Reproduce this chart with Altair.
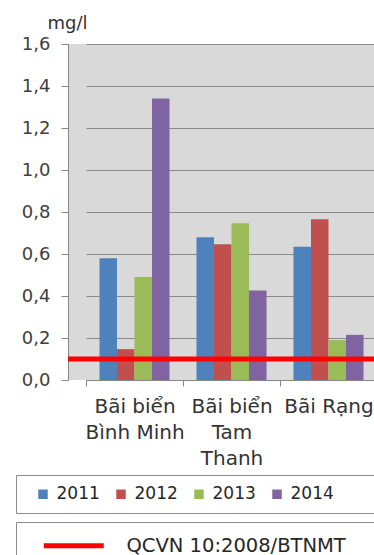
import altair as alt
import pandas as pd

# ---- data ----
sites = ["Bãi biển\nBình Minh", "Bãi biển\nTam\nThanh", "Bãi Rạng"]
years = ["2011", "2012", "2013", "2014"]
v2011 = [0.58, 0.68, 0.635]
v2012 = [0.147, 0.647, 0.766]
v2013 = [0.49, 0.746, 0.19]
v2014 = [1.34, 0.426, 0.215]
qcvn_label = ["QCVN 10:2008/BTNMT"]
qcvn_value = [0.1]
y_ticks = [0, 0.2, 0.4, 0.6, 0.8, 1.0, 1.2, 1.4, 1.6]
colors = ["#4F81BD", "#C0504D", "#9BBB59", "#8064A2"]

series = {"2011": v2011, "2012": v2012, "2013": v2013, "2014": v2014}
rows = []
for yr in years:
    for s, v in zip(sites, series[yr]):
        rows.append({"site": s, "year": yr, "value": v})
df = pd.DataFrame(rows)
df_rule = pd.DataFrame({"value": qcvn_value, "name": qcvn_label})

FONT = "DejaVu Sans"

y_axis = alt.Axis(
    values=y_ticks,
    labelExpr="replace(format(datum.value, '.1f'), '.', ',')",
    title="mg/l",
    titleAngle=0,
    titleAlign="left",
    titleBaseline="alphabetic",
    titleX=-21,
    titleY=-16,
    titleFont=FONT,
    titleFontSize=18,
    titleFontWeight="normal",
    titleColor="#333333",
    tickSize=7,
    labelPadding=11,
    labelFont=FONT,
    labelFontSize=18,
    labelColor="#404040",
    domainColor="#868686",
    tickColor="#868686",
    grid=True,
    gridColor="#8a8a8a",
)

y_enc = alt.Y("value:Q", scale=alt.Scale(domain=[0, 1.6], nice=False, zero=True), axis=y_axis)

bars = alt.Chart(df).mark_bar().encode(
    x=alt.X(
        "site:N",
        sort=sites,
        scale=alt.Scale(range=[18, 309], paddingInner=0, paddingOuter=0),
        axis=alt.Axis(
            title=None,
            labelAngle=0,
            tickBand="extent",
            tickSize=6,
            labelPadding=10,
            labelExpr="split(datum.label, '\\n')",
            labelLineHeight=26,
            labelFont=FONT,
            labelFontSize=20,
            labelColor="#333333",
            labelBaseline="top",
            domainColor="#868686",
            tickColor="#868686",
            grid=False,
        ),
    ),
    xOffset=alt.XOffset("year:N", sort=years, scale=alt.Scale(paddingInner=0, paddingOuter=0.77)),
    y=y_enc,
    fill=alt.Fill(
        "year:N",
        sort=years,
        scale=alt.Scale(domain=years, range=colors),
        legend=alt.Legend(
            orient="none",
            legendX=-52,
            legendY=431,
            direction="horizontal",
            title=" ",
            titleOrient="right",
            titlePadding=60,
            titleFontSize=10,
            symbolType="square",
            symbolSize=90,
            symbolStrokeWidth=0,
            symbolOffset=8,
            labelOffset=5,
            columnPadding=4,
            labelFont=FONT,
            labelFontSize=17,
            labelColor="#262626",
            padding=10.5,
            strokeColor="#8c8c8c",
            cornerRadius=0,
        ),
    ),
)

rule = alt.Chart(df_rule).mark_rule(strokeWidth=5).encode(
    y=y_enc,
    stroke=alt.Stroke(
        "name:N",
        scale=alt.Scale(domain=qcvn_label, range=["#FF0000"]),
        legend=alt.Legend(
            orient="none",
            legendX=-52,
            legendY=478,
            title=" ",
            titleOrient="right",
            titlePadding=40,
            titleFontSize=10,
            symbolType="M-6,0H6",
            symbolSize=100,
            symbolStrokeWidth=5,
            symbolOffset=34,
            labelOffset=43,
            labelLimit=400,
            labelFont=FONT,
            labelFontSize=19.5,
            labelColor="#262626",
            padding=14,
            strokeColor="#8c8c8c",
            cornerRadius=0,
        ),
    ),
)

chart = alt.layer(bars, rule).properties(
    width=306,
    height=336,
    autosize=alt.AutoSizeParams(type="none"),
    padding={"left": 68, "top": 44, "right": 0, "bottom": 175},
    background="white",
).configure_view(fill="#d9d9d9", strokeWidth=0)

chart.save("out.html", embed_options={"renderer": "svg", "actions": False})
